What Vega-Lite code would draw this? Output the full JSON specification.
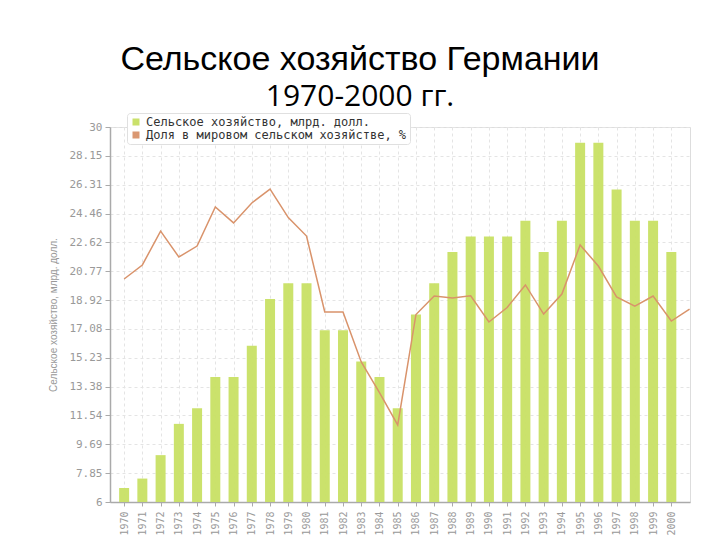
{
  "$schema": "https://vega.github.io/schema/vega-lite/v6.json",
  "autosize": {"type": "none"},
  "width": 580,
  "height": 375,
  "padding": {"left": 110, "top": 127, "right": 30, "bottom": 38},
  "background": "white",
  "config": {"axis": {"labelOverlap": false}},
  "title": {
    "text": "Сельское хозяйство Германии",
    "subtitle": "1970-2000 гг.",
    "anchor": "middle",
    "frame": "group",
    "dx": -40,
    "offset": 1,
    "font": "Liberation Sans",
    "fontSize": 34,
    "fontWeight": "normal",
    "color": "#000000",
    "subtitleFont": "Open Sans",
    "subtitleFontSize": 30,
    "subtitleColor": "#000000",
    "subtitlePadding": 5
  },
  "data": {
    "values": [
      {"year": 1970, "agri": 6.9, "share": 20.27},
      {"year": 1971, "agri": 7.5, "share": 21.17},
      {"year": 1972, "agri": 9.0, "share": 23.34},
      {"year": 1973, "agri": 11.0, "share": 21.68},
      {"year": 1974, "agri": 12.0, "share": 22.38},
      {"year": 1975, "agri": 14.0, "share": 24.88},
      {"year": 1976, "agri": 14.0, "share": 23.86},
      {"year": 1977, "agri": 16.0, "share": 25.14},
      {"year": 1978, "agri": 19.0, "share": 26.03},
      {"year": 1979, "agri": 20.0, "share": 24.2},
      {"year": 1980, "agri": 20.0, "share": 23.02},
      {"year": 1981, "agri": 17.0, "share": 18.16},
      {"year": 1982, "agri": 17.0, "share": 18.16},
      {"year": 1983, "agri": 15.0, "share": 14.96},
      {"year": 1984, "agri": 14.0, "share": 13.0},
      {"year": 1985, "agri": 12.0, "share": 10.93},
      {"year": 1986, "agri": 18.0, "share": 18.0},
      {"year": 1987, "agri": 20.0, "share": 19.18},
      {"year": 1988, "agri": 22.0, "share": 19.06},
      {"year": 1989, "agri": 23.0, "share": 19.2},
      {"year": 1990, "agri": 23.0, "share": 17.52},
      {"year": 1991, "agri": 23.0, "share": 18.45},
      {"year": 1992, "agri": 24.0, "share": 19.89},
      {"year": 1993, "agri": 22.0, "share": 18.03},
      {"year": 1994, "agri": 24.0, "share": 19.31},
      {"year": 1995, "agri": 29.0, "share": 22.45},
      {"year": 1996, "agri": 29.0, "share": 21.1},
      {"year": 1997, "agri": 26.0, "share": 19.12},
      {"year": 1998, "agri": 24.0, "share": 18.54},
      {"year": 1999, "agri": 24.0, "share": 19.18},
      {"year": 2000, "agri": 22.0, "share": 17.58},
      {"year": 2001, "share": 18.35}
    ]
  },
  "encoding": {
    "x": {
      "field": "year",
      "type": "quantitative",
      "scale": {"domain": [1969.5, 2000.75], "nice": false, "zero": false},
      "axis": {
        "title": null,
        "values": [1970,1971,1972,1973,1974,1975,1976,1977,1978,1979,1980,1981,1982,1983,1984,1985,1986,1987,1988,1989,1990,1991,1992,1993,1994,1995,1996,1997,1998,1999,2000],
        "labelExpr": "'' + datum.value",
        "labelAngle": 270,
        "labelAlign": "right",
        "labelBaseline": "middle",
        "labelFont": "DejaVu Sans Mono",
        "labelFontSize": 10,
        "labelColor": "#999999",
        "labelPadding": 5,
        "labelOverlap": false,
        "labelFlush": false,
        "tickColor": "#aaaaaa",
        "tickSize": 4,
        "domainColor": "#aaaaaa",
        "domainWidth": 1.5,
        "grid": true,
        "gridColor": "#e4e4e4",
        "gridDash": [3, 3]
      }
    }
  },
  "layer": [
    {
      "mark": {"type": "bar", "size": 10, "opacity": 0.95},
      "encoding": {
        "y": {
          "field": "agri",
          "type": "quantitative",
          "scale": {"domain": [6, 30], "nice": false, "zero": false},
          "axis": {
            "title": "Сельское хозяйство, млрд. долл.",
            "titleFont": "Liberation Sans",
            "titleFontSize": 10,
            "titleFontWeight": "normal",
            "titleColor": "#999999",
            "titlePadding": 10,
            "values": [6, 7.85, 9.69, 11.54, 13.38, 15.23, 17.08, 18.92, 20.77, 22.62, 24.46, 26.31, 28.15, 30],
            "labelExpr": "'' + datum.value",
            "labelOverlap": false,
            "labelFlush": false,
            "labelFont": "DejaVu Sans Mono",
            "labelFontSize": 11,
            "labelColor": "#999999",
            "labelPadding": 3,
            "tickColor": "#aaaaaa",
            "tickSize": 5,
            "domainColor": "#aaaaaa",
            "domainWidth": 1.5,
            "grid": true,
            "gridColor": "#e4e4e4",
            "gridDash": [3, 3]
          }
        },
        "y2": {"datum": 6},
        "color": {
          "datum": "Сельское хозяйство, млрд. долл.",
          "type": "nominal",
          "scale": {
            "domain": ["Сельское хозяйство, млрд. долл.", "Доля в мировом сельском хозяйстве, %"],
            "range": ["#c8e064", "#d9936b"]
          },
          "legend": {
            "orient": "none",
            "legendX": 17,
            "legendY": -14,
            "title": null,
            "symbolType": "square",
            "symbolSize": 30,
            "labelFont": "DejaVu Sans Mono",
            "labelFontSize": 12,
            "labelColor": "#333333",
            "rowPadding": 1,
            "padding": 3,
            "fillColor": "#ffffff",
            "strokeColor": "#e0e0e0",
            "cornerRadius": 3,
            "labelLimit": 400
          }
        }
      }
    },
    {
      "mark": {"type": "line", "strokeWidth": 1.5, "clip": true},
      "encoding": {
        "y": {
          "field": "share",
          "type": "quantitative",
          "axis": {
            "title": "Сельское хозяйство, млрд. долл.",
            "titleFont": "Liberation Sans",
            "titleFontSize": 10,
            "titleFontWeight": "normal",
            "titleColor": "#999999",
            "titlePadding": 10,
            "values": [6, 7.85, 9.69, 11.54, 13.38, 15.23, 17.08, 18.92, 20.77, 22.62, 24.46, 26.31, 28.15, 30],
            "labelExpr": "'' + datum.value",
            "labelOverlap": false,
            "labelFlush": false,
            "labelFont": "DejaVu Sans Mono",
            "labelFontSize": 11,
            "labelColor": "#999999",
            "labelPadding": 3,
            "tickColor": "#aaaaaa",
            "tickSize": 5,
            "domainColor": "#aaaaaa",
            "domainWidth": 1.5,
            "grid": true,
            "gridColor": "#e4e4e4",
            "gridDash": [3, 3]
          }
        },
        "color": {"datum": "Доля в мировом сельском хозяйстве, %", "type": "nominal"}
      }
    }
  ]
}
